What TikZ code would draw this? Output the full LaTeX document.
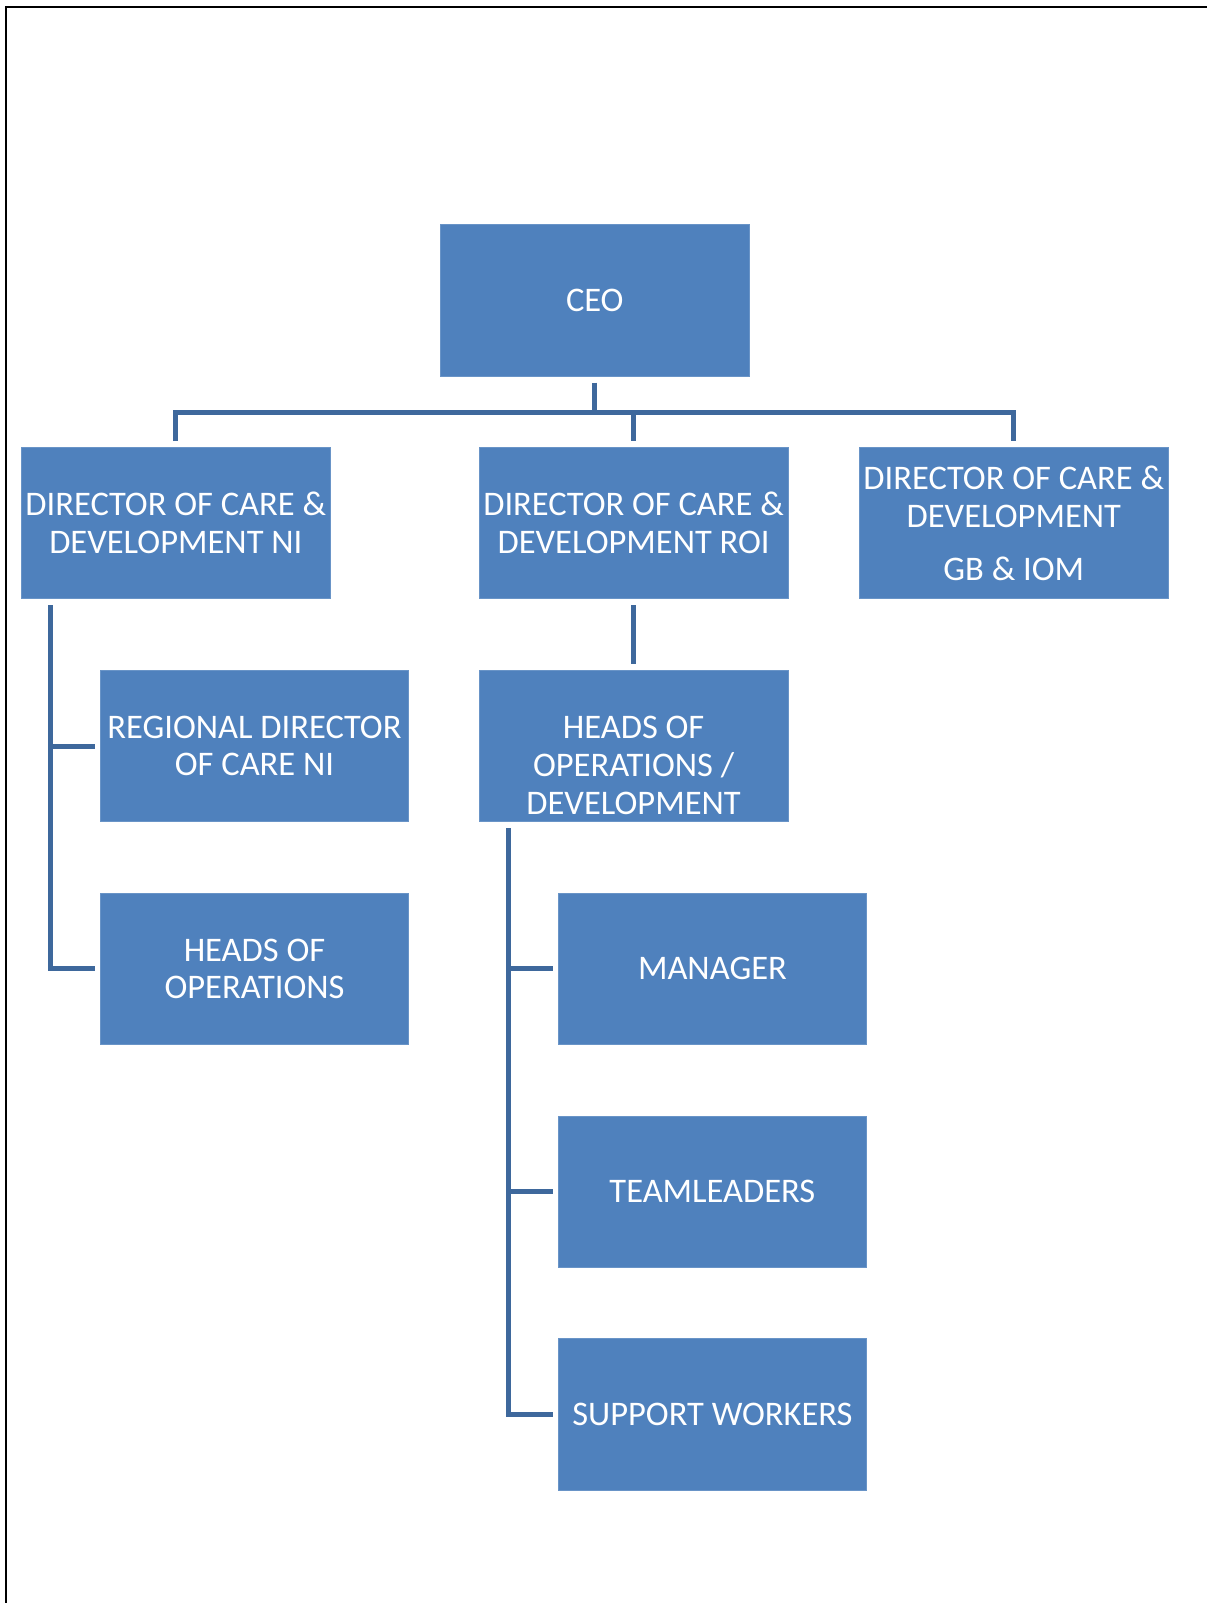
\documentclass[tikz,border=0pt]{standalone}
\usepackage{fontspec}
\setmainfont{Carlito}
\definecolor{boxblue}{HTML}{4F81BD}
\definecolor{connblue}{HTML}{3E689C}
\begin{document}
\begin{tikzpicture}[x=1pt,y=-1pt,
  orgbox/.style={rectangle,fill=boxblue,draw=boxblue!85!white,line width=0.8pt,
    minimum width=308.6pt,minimum height=151.3pt,inner sep=0pt,
    text=white,align=center,font=\fontsize{34.5}{37.8}\selectfont},
  conn/.style={draw=connblue,line width=5pt,line join=miter,line cap=butt}]
\useasboundingbox (0,0) rectangle (1207,1603);
% page frame (top and left edges)
\draw[line width=2pt] (6,1603) -- (6,7.5) -- (1207,7.5);
% boxes
\node[orgbox] (CEO) at (594.8,300.5) {CEO};
\node[orgbox] (NI) at (175.8,523.2) {DIRECTOR OF CARE \&\\DEVELOPMENT NI};
\node[orgbox] (ROI) at (633.6,523.2) {DIRECTOR OF CARE \&\\DEVELOPMENT ROI};
\node[orgbox] (GB) at (1013.8,523.2) {DIRECTOR OF CARE \&\\DEVELOPMENT\\[15pt]GB \& IOM};
\node[orgbox] (REG) at (254.5,746) {REGIONAL DIRECTOR\\OF CARE NI};
\node[orgbox] (HOL) at (254.5,968.9) {HEADS OF\\OPERATIONS};
\node[orgbox] (HOD) at (633.6,746) {\vphantom{H}\\[1pt]HEADS OF\\OPERATIONS /\\DEVELOPMENT};
\node[orgbox] (MGR) at (712.4,968.9) {MANAGER};
\node[orgbox] (TL) at (712.4,1191.7) {TEAMLEADERS};
\node[orgbox] (SW) at (712.4,1414.4) {SUPPORT WORKERS};
% connectors
\coordinate (bus) at (594.8,412);
\draw[conn] ([yshift=-6pt]CEO.south) -- (bus);
\draw[conn] ([yshift=6pt]NI.north) -- (NI.north |- bus) -- (GB.north |- bus) -- ([yshift=6pt]GB.north);
\draw[conn] (ROI.north |- bus) -- ([yshift=6pt]ROI.north);
\coordinate (nil) at (50,605);
\draw[conn] (nil) |- ([xshift=-5pt]HOL.west);
\draw[conn] (nil |- REG.west) -- ([xshift=-5pt]REG.west);
\draw[conn] ([yshift=-6pt]ROI.south) -- ([yshift=6pt]HOD.north);
\coordinate (hodl) at (508,828);
\draw[conn] (hodl) |- ([xshift=-5pt]SW.west);
\draw[conn] (hodl |- MGR.west) -- ([xshift=-5pt]MGR.west);
\draw[conn] (hodl |- TL.west) -- ([xshift=-5pt]TL.west);
\end{tikzpicture}
\end{document}
